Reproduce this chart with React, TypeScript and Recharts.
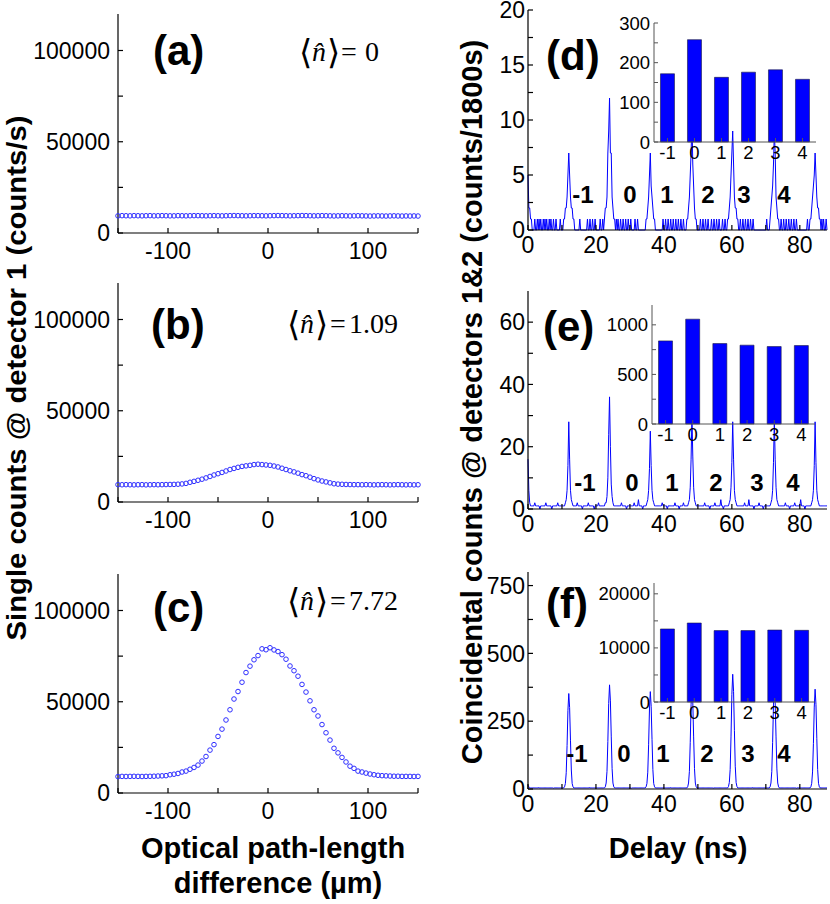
import React from "react";
import { ScatterChart, Scatter, LineChart, Line, BarChart, Bar, XAxis, YAxis } from "recharts";

// ---- left column: single counts vs optical path-length difference ----
const pathDiff = [
  -150, -146, -142, -138, -134, -130, -126, -122, -118, -114,
  -110, -106, -102, -98, -94, -90, -86, -82, -78, -74,
  -70, -66, -62, -58, -54, -50, -46, -42, -38, -34,
  -30, -26, -22, -18, -14, -10, -6, -2, 2, 6,
  10, 14, 18, 22, 26, 30, 34, 38, 42, 46,
  50, 54, 58, 62, 66, 70, 74, 78, 82, 86,
  90, 94, 98, 102, 106, 110, 114, 118, 122, 126,
  130, 134, 138, 142, 146, 150,
];

const countsA = [
  9400, 9500, 9450, 9400, 9500, 9450, 9400, 9450, 9500, 9400,
  9450, 9500, 9450, 9400, 9400, 9500, 9450, 9400, 9450, 9500,
  9500, 9450, 9400, 9450, 9500, 9450, 9400, 9450, 9500, 9550,
  9500, 9450, 9400, 9450, 9500, 9500, 9450, 9400, 9450, 9500,
  9550, 9500, 9450, 9400, 9450, 9500, 9550, 9500, 9450, 9400,
  9450, 9500, 9450, 9400, 9350, 9400, 9450, 9400, 9350, 9400,
  9450, 9400, 9350, 9300, 9350, 9400, 9350, 9300, 9350, 9400,
  9350, 9300, 9350, 9300, 9350, 9300,
];

const countsB = [
  9500, 9450, 9500, 9450, 9400, 9450, 9500, 9400, 9450, 9500,
  9450, 9500, 9550, 9600, 9650, 9750, 9900, 10200, 10800, 11300,
  11900, 12500, 13200, 14000, 14800, 15500, 16200, 17000, 17800, 18400,
  19000, 19500, 19800, 20100, 20500, 20700, 20500, 20300, 20100, 19700,
  19200, 18500, 17800, 17100, 16500, 15800, 15000, 14400, 13600, 12800,
  12100, 11500, 11000, 10500, 10000, 9800, 9700, 9600, 9550, 9500,
  9500, 9450, 9500, 9450, 9400, 9450, 9500, 9450, 9400, 9450,
  9500, 9450, 9400, 9450, 9400, 9450,
];

const countsC = [
  9000, 9100, 9050, 9100, 9150, 9100, 9050, 9100, 9150, 9200,
  9300, 9400, 9500, 10000, 10300, 10700, 11500, 12000, 13000, 14000,
  15300, 17500, 20000, 23500, 26500, 31000, 35000, 40000, 45600, 51500,
  55600, 60700, 66000, 69500, 73000, 75300, 79000, 78500, 79600, 78400,
  77500, 75800, 73300, 69600, 67000, 64000, 59500, 55300, 50500, 45600,
  42200, 37500, 33000, 29000, 24500, 22000, 19500, 17000, 14700, 13500,
  12000, 11500, 10900, 10400, 10000, 9700, 9500, 9400, 9300, 9200,
  9200, 9100, 9100, 9100, 9050, 9100,
];

const pathTicks = [-150, -100, -50, 0, 50, 100, 150];
const pathLabels = [-100, 0, 100];
const singleTicks = [0, 25000, 50000, 75000, 100000];
const singleLabels = [0, 50000, 100000];

// ---- right column: coincidence histograms vs delay ----
const BIN = 0.25;
const DELAY_MAX = 88;
const delayTicks = [0, 10, 20, 30, 40, 50, 60, 70, 80];
const delayLabels = [0, 20, 40, 60, 80];
const peakCenters = [0, 12, 24, 36, 48.25, 60.25, 72.5, 84.5];

// profiles: counts at -1.5 .. +1.5 ns around each peak centre (0.25 ns bins)
const peaksD = [
  [0, 0, 0, 0, 0, 0, 5, 2, 2, 1, 1, 0, 0],
  [1, 1, 2, 2, 3, 5, 7, 5, 3, 2, 2, 1, 1],
  [1, 2, 2, 3, 7, 9, 12, 7, 7, 3, 2, 1, 1],
  [0, 1, 1, 2, 3, 5, 7, 4, 3, 2, 1, 1, 0],
  [1, 1, 2, 3, 5, 7, 10, 6, 4, 2, 1, 1, 0],
  [1, 1, 2, 3, 5, 7, 9, 6, 3, 2, 2, 1, 1],
  [0, 1, 2, 3, 4, 6, 9, 7, 3, 2, 1, 1, 0],
  [1, 1, 2, 3, 4, 5, 7, 5, 3, 2, 2, 1, 1],
];
const baseD = 0;
const noiseD: [number, number][] = [
  [0.5, 1], [0.75, 1], [1.5, 1], [2, 1], [2.75, 1], [3.25, 1], [3.75, 1], [4.5, 1],
  [5, 1], [5.5, 1], [6.25, 1], [6.75, 1], [7.5, 1], [8.25, 1], [9.5, 1], [15.25, 1],
  [17.5, 1], [18.25, 1], [19, 1], [19.75, 1], [21.25, 1], [22, 1], [26, 1], [26.5, 1],
  [27.25, 1], [28, 1], [28.75, 1], [29.5, 1], [30.25, 1], [31.5, 1], [32.25, 1],
  [39.75, 1], [40.5, 1], [41.25, 1], [42, 1], [42.75, 1], [43.5, 1], [44.25, 1],
  [45, 1], [45.75, 1], [50.75, 1], [51.5, 1], [52.25, 1], [53, 1], [54, 1],
  [54.75, 1], [55.5, 1], [56.25, 1], [57.25, 1], [58, 1], [62.5, 1], [63.25, 1],
  [64, 1], [64.75, 1], [65.5, 1], [66.25, 1], [70.25, 1], [74.5, 1], [75.25, 1],
  [76, 1], [76.75, 1], [77.5, 1], [78.25, 1], [79, 1], [82.25, 1], [86.5, 1],
  [87, 1], [87.75, 1],
];

const peaksE = [
  [0, 0, 0, 0, 0, 0, 16, 6, 2, 1, 1, 1, 1],
  [1, 1, 2, 3, 6, 14, 28, 16, 6, 3, 2, 1, 1],
  [1, 2, 2, 4, 10, 24, 36, 20, 8, 4, 2, 1, 1],
  [1, 1, 2, 3, 6, 13, 25, 14, 6, 3, 2, 1, 1],
  [1, 1, 2, 3, 7, 16, 30, 17, 7, 3, 2, 1, 1],
  [1, 1, 2, 3, 7, 15, 28, 16, 6, 3, 2, 1, 1],
  [1, 1, 2, 3, 6, 15, 29, 16, 7, 3, 2, 1, 1],
  [1, 1, 2, 3, 6, 14, 28, 15, 6, 3, 2, 1, 1],
];
const baseE = 1;
const noiseE: [number, number][] = [
  [2, 2], [3.5, 0], [5.25, 2], [7, 0], [8.75, 2], [14.5, 2], [16, 0], [17.75, 2],
  [19.5, 0], [20.75, 2], [27.5, 2], [29, 0], [31.25, 2], [32.5, 3], [33.75, 0],
  [39.5, 2], [41, 0], [43.25, 2], [44.5, 0], [45.75, 2], [52, 2], [53.5, 0],
  [55, 2], [56.75, 3], [57.5, 0], [63.75, 2], [65, 3], [66.5, 0], [68, 2],
  [69.25, 0], [75.75, 2], [77, 0], [78.5, 2], [80.25, 3], [81.5, 0],
];

const peaksF = [
  [0, 0, 0, 0, 0, 0, 14, 8, 5, 4, 4, 4, 4],
  [4, 8, 20, 60, 160, 290, 352, 300, 180, 70, 20, 8, 4],
  [4, 8, 22, 65, 175, 315, 384, 325, 195, 75, 22, 8, 4],
  [4, 8, 20, 62, 163, 295, 359, 305, 183, 72, 20, 8, 4],
  [4, 8, 22, 65, 172, 312, 380, 322, 192, 75, 22, 8, 4],
  [4, 9, 24, 72, 192, 348, 423, 360, 215, 84, 24, 9, 4],
  [4, 8, 22, 64, 172, 310, 378, 320, 192, 74, 22, 8, 4],
  [4, 8, 21, 63, 167, 302, 368, 312, 187, 72, 21, 8, 4],
];
const baseF = 4;
const noiseF: [number, number][] = [
  [3, 5], [7.5, 3], [18, 5], [30.5, 3], [42, 5], [54.5, 3], [66, 5], [79, 3],
];

// ---- insets: summed counts per peak ----
const peakOrders = ["-1", "0", "1", "2", "3", "4"];
const sumsD = [172, 258, 163, 176, 182, 158];
const sumsE = [838, 1057, 811, 795, 781, 791];
const sumsF = [13500, 14600, 13200, 13200, 13300, 13250];

const sans = "'Liberation Sans', Arial, Helvetica, sans-serif";
const serif = "'Liberation Serif', 'Times New Roman', 'DejaVu Serif', serif";
const BLUE = "#0000ff";

function buildHistogram(base: number, noise: [number, number][], profiles: number[][]) {
  const n = Math.round(DELAY_MAX / BIN) + 1;
  const vals: number[] = new Array(n).fill(base);
  noise.forEach(([t, v]) => {
    vals[Math.round(t / BIN)] = v;
  });
  peakCenters.forEach((c, p) => {
    profiles[p].forEach((v, j) => {
      const k = Math.round(c / BIN) + j - 6;
      if (k >= 0 && k < n) vals[k] = v;
    });
  });
  return vals.map((v, k) => ({ t: k * BIN, v }));
}

const axisLine = { stroke: "#000", strokeWidth: 1.2 };
const mainTick = { fontSize: 23, fill: "#000", fontFamily: sans };
const insetTick = { fontSize: 18.5, fill: "#000", fontFamily: sans };

function PathPanel({ top, counts }: { top: number; counts: number[] }) {
  const data = pathDiff.map((x, i) => ({ x, y: counts[i] }));
  const padL = 118, padR = 10, padT = 10, padB = 40, plotW = 300, plotH = 219;
  const circle = (p: any) => (
    <circle cx={p.cx} cy={p.cy} r={2.3} fill="none" stroke="#2f2fff" strokeWidth={1} />
  );
  return (
    <div style={{ position: "absolute", left: 0, top: top - padT }}>
      <ScatterChart
        width={padL + plotW + padR}
        height={padT + plotH + padB}
        margin={{ top: padT, right: padR, bottom: 0, left: 0 }}
      >
        <XAxis
          dataKey="x" type="number" domain={[-150, 150]} ticks={pathTicks} interval={0}
          tickFormatter={(v) => (pathLabels.includes(v) ? String(v) : "")}
          height={padB} tickSize={-5} tickMargin={15}
          axisLine={axisLine} tickLine={axisLine} tick={mainTick}
        />
        <XAxis
          xAxisId="top" orientation="top" type="number" domain={[-150, 150]} ticks={pathTicks}
          interval={0} height={0} tickSize={-5} axisLine={axisLine} tickLine={axisLine} tick={false}
        />
        <YAxis
          dataKey="y" type="number" domain={[0, 120000]} ticks={singleTicks} interval={0}
          tickFormatter={(v) => (singleLabels.includes(v) ? String(v) : "")}
          width={padL} tickSize={-5} tickMargin={13}
          axisLine={axisLine} tickLine={axisLine} tick={mainTick}
        />
        <YAxis
          yAxisId="right" orientation="right" type="number" domain={[0, 120000]} ticks={singleTicks}
          interval={0} width={0} tickSize={-5} axisLine={axisLine} tickLine={axisLine} tick={false}
        />
        <Scatter data={data} shape={circle} isAnimationActive={false} />
      </ScatterChart>
    </div>
  );
}

function DelayPanel({
  top, plotH, yMax, yTicks, yLabels, data,
}: {
  top: number; plotH: number; yMax: number; yTicks: number[]; yLabels: number[];
  data: { t: number; v: number }[];
}) {
  const padL = 58, padR = 3, padT = 12, padB = 40, plotW = 299;
  return (
    <div style={{ position: "absolute", left: 528 - padL, top: top - padT }}>
      <LineChart
        width={padL + plotW + padR}
        height={padT + plotH + padB}
        data={data}
        margin={{ top: padT, right: padR, bottom: 0, left: 0 }}
      >
        <XAxis
          dataKey="t" type="number" domain={[0, DELAY_MAX]} ticks={delayTicks} interval={0}
          tickFormatter={(v) => (delayLabels.includes(v) ? String(v) : "")}
          height={padB} tickSize={-5} tickMargin={12}
          axisLine={axisLine} tickLine={axisLine} tick={mainTick}
        />
        <XAxis
          xAxisId="top" orientation="top" type="number" domain={[0, DELAY_MAX]} ticks={delayTicks}
          interval={0} height={0} tickSize={-5} axisLine={axisLine} tickLine={axisLine} tick={false}
        />
        <YAxis
          type="number" domain={[0, yMax]} ticks={yTicks} interval={0}
          tickFormatter={(v) => (yLabels.includes(v) ? String(v) : "")}
          width={padL} tickSize={-5} tickMargin={8}
          axisLine={axisLine} tickLine={axisLine} tick={mainTick}
        />
        <YAxis
          yAxisId="right" orientation="right" type="number" domain={[0, yMax]} ticks={yTicks}
          interval={0} width={0} tickSize={-5} axisLine={axisLine} tickLine={axisLine} tick={false}
        />
        <Line dataKey="v" type="linear" stroke={BLUE} strokeWidth={1} dot={false} isAnimationActive={false} />
      </LineChart>
    </div>
  );
}

function Inset({
  left, top, w, h, sums, yMax, yTicks, yLabels,
}: {
  left: number; top: number; w: number; h: number; sums: number[];
  yMax: number; yTicks: number[]; yLabels: number[];
}) {
  const data = peakOrders.map((k, i) => ({ k, v: sums[i] }));
  const padL = 62, padR = 3, padT = 10, padB = 32;
  const grey = { stroke: "#555", strokeWidth: 1 };
  return (
    <div style={{ position: "absolute", left: left - padL, top: top - padT }}>
      <BarChart
        width={padL + w + padR}
        height={padT + h + padB}
        data={data}
        margin={{ top: padT, right: padR, bottom: 0, left: 0 }}
        barCategoryGap="24%"
      >
        <XAxis
          dataKey="k" interval={0} height={padB} tickSize={-4} tickMargin={8}
          axisLine={grey} tickLine={grey} tick={insetTick}
        />
        <XAxis
          xAxisId="top" dataKey="k" orientation="top" interval={0} height={0} tickSize={-4}
          axisLine={grey} tickLine={grey} tick={false}
        />
        <YAxis
          type="number" domain={[0, yMax]} ticks={yTicks} interval={0}
          tickFormatter={(v) => (yLabels.includes(v) ? String(v) : "")}
          width={padL} tickSize={-4} tickMargin={8}
          axisLine={grey} tickLine={grey} tick={insetTick}
        />
        <YAxis
          yAxisId="right" orientation="right" type="number" domain={[0, yMax]} ticks={yTicks}
          interval={0} width={0} tickSize={-4} axisLine={grey} tickLine={grey} tick={false}
        />
        <Bar dataKey="v" fill={BLUE} stroke="#1a1a40" strokeWidth={0.6} isAnimationActive={false} />
      </BarChart>
    </div>
  );
}

function MeanN({ x, y, value }: { x: number[]; y: number; value: string }) {
  // x: positions of ⟨, n̂, ⟩, =, value — one text element
  return (
    <text y={y} fontFamily={serif} fontSize={28} fill="#000">
      <tspan x={x[0]} fontSize={34} dy={3}>⟨</tspan>
      <tspan x={x[1]} fontStyle="italic" dy={-3}>n&#x0302;</tspan>
      <tspan x={x[2]} fontSize={34} dy={3}>⟩</tspan>
      <tspan x={x[3]} dy={-3}>=</tspan>
      <tspan x={x[4]}>{value}</tspan>
    </text>
  );
}

export default function App() {
  const histD = buildHistogram(baseD, noiseD, peaksD);
  const histE = buildHistogram(baseE, noiseE, peaksE);
  const histF = buildHistogram(baseF, noiseF, peaksF);

  const labelRows = [
    { y: 203, xs: [583, 630, 667, 708, 744, 784] },
    { y: 491, xs: [585, 632, 672, 716, 757, 793] },
    { y: 762, xs: [577, 624, 663, 707, 748, 784] },
  ];

  return (
    <div style={{ position: "absolute", left: 0, top: 0, width: 830, height: 904, background: "#fff" }}>
      <PathPanel top={14} counts={countsA} />
      <PathPanel top={283} counts={countsB} />
      <PathPanel top={574} counts={countsC} />

      <DelayPanel top={10} plotH={220} yMax={20} yTicks={[0, 2.5, 5, 7.5, 10, 12.5, 15, 17.5, 20]} yLabels={[0, 5, 10, 15, 20]} data={histD} />
      <DelayPanel top={291} plotH={218} yMax={70} yTicks={[0, 10, 20, 30, 40, 50, 60]} yLabels={[0, 20, 40, 60]} data={histE} />
      <DelayPanel top={572} plotH={217} yMax={800} yTicks={[0, 125, 250, 375, 500, 625, 750]} yLabels={[0, 250, 500, 750]} data={histF} />

      <Inset left={654} top={23} w={162} h={119} sums={sumsD} yMax={300} yTicks={[0, 50, 100, 150, 200, 250, 300]} yLabels={[0, 100, 200, 300]} />
      <Inset left={652} top={305} w={163} h={119} sums={sumsE} yMax={1200} yTicks={[0, 250, 500, 750, 1000]} yLabels={[0, 500, 1000]} />
      <Inset left={654} top={583} w={161} h={119} sums={sumsF} yMax={22000} yTicks={[0, 5000, 10000, 15000, 20000]} yLabels={[0, 10000, 20000]} />

      <svg width={830} height={904} style={{ position: "absolute", left: 0, top: 0, pointerEvents: "none" }}>
        <g fontFamily={sans} fontWeight="bold" fontSize={42} fill="#000">
          <text x={153} y={65}>(a)</text>
          <text x={151} y={339}>(b)</text>
          <text x={153} y={622}>(c)</text>
          <text x={546} y={70}>(d)</text>
          <text x={543} y={341}>(e)</text>
          <text x={546} y={618}>(f)</text>
        </g>
        <MeanN x={[299, 312, 327, 341, 365]} y={61} value="0" />
        <MeanN x={[287, 300, 315, 330, 349]} y={333} value="1.09" />
        <MeanN x={[287, 300, 315, 330, 349]} y={610} value="7.72" />
        <g fontFamily={sans} fontWeight="bold" fontSize={24} fill="#000" textAnchor="middle">
          {labelRows.map((row, r) =>
            peakOrders.map((s, i) => (
              <text key={`${r}-${i}`} x={row.xs[i]} y={row.y}>{s}</text>
            ))
          )}
        </g>
        <g fontFamily={sans} fontWeight="bold" fill="#000" textAnchor="middle">
          <text transform="translate(26,378) rotate(-90)" fontSize={27} textLength={525} lengthAdjust="spacingAndGlyphs">
            Single counts @ detector 1 (counts/s)
          </text>
          <text transform="translate(482,402) rotate(-90)" fontSize={29}>
            Coincidental counts @ detectors 1&amp;2 (counts/1800s)
          </text>
          <text x={273} y={858} fontSize={29}>Optical path-length</text>
          <text x={278} y={893} fontSize={29}>difference (µm)</text>
          <text x={678} y={858} fontSize={29}>Delay (ns)</text>
        </g>
      </svg>
    </div>
  );
}
